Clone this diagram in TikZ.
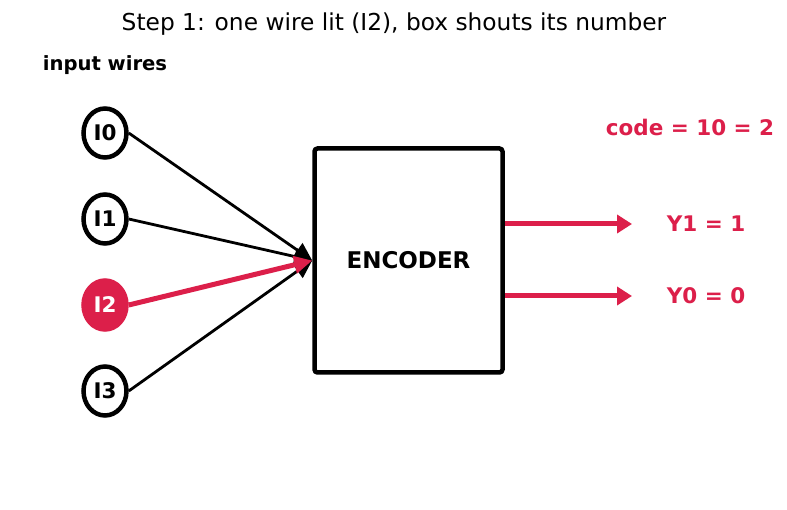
\documentclass[tikz,border=0pt]{standalone}
\usepackage{fontspec}
\setmainfont{DejaVu Sans}
\usepackage{tikz}
\usetikzlibrary{arrows.meta,positioning,shapes.geometric}
\definecolor{crimson}{HTML}{DC1F4A}

\begin{document}
\begin{tikzpicture}[x=1pt,y=-1pt,every node/.style={align=center},
  pin/.style={ellipse,draw=black,line width=4.5pt,fill=white,inner sep=0pt,minimum width=43pt,minimum height=49pt,font=\fontsize{21.5}{24}\selectfont\bfseries},
  wire/.style={line width=2.8pt,-{Triangle[length=18pt,width=17pt]}},
  outwire/.style={line width=5pt,draw=crimson,-{Triangle[length=15pt,width=18pt]}},
  result/.style={text=crimson,font=\fontsize{21.5}{24}\selectfont\bfseries}]
\useasboundingbox (0,0) rectangle (787,510);
\node[font=\fontsize{23.3}{26}\selectfont] (title) at (394,24) {Step 1: one wire lit (I2), box shouts its number};
\node[font=\fontsize{19.6}{22}\selectfont\bfseries] (inlabel) at (105,65) {input wires};
\node[pin] (i0) at (105,133) {I0};
\node[pin] (i1) at (105,219) {I1};
\node[pin,draw=crimson,fill=crimson,text=white] (i2) at (105,305) {I2};
\node[pin] (i3) at (105,391) {I3};
\node[draw,line width=4.5pt,rounded corners=3pt,minimum width=188pt,minimum height=224pt,font=\fontsize{23}{26}\selectfont\bfseries] (enc) at (408.5,260.5) {ENCODER};
\draw[wire] (i0.east) -- (enc.west);
\draw[wire] (i1.east) -- (enc.west);
\draw[wire] (i3.east) -- (enc.west);
\draw[wire,line width=5pt,crimson] (i2.east) -- (enc.west);
\coordinate (y1end) at (632,224);
\coordinate (y0end) at (632,296);
\draw[outwire] (enc.east |- y1end) -- (y1end);
\draw[outwire] (enc.east |- y0end) -- (y0end);
\node[result] (y1) at (706,224) {Y1 = 1};
\node[result] (y0) at (706,296) {Y0 = 0};
\node[result] (code) at (690,127) {code = 10 = 2};
\end{tikzpicture}
\end{document}
